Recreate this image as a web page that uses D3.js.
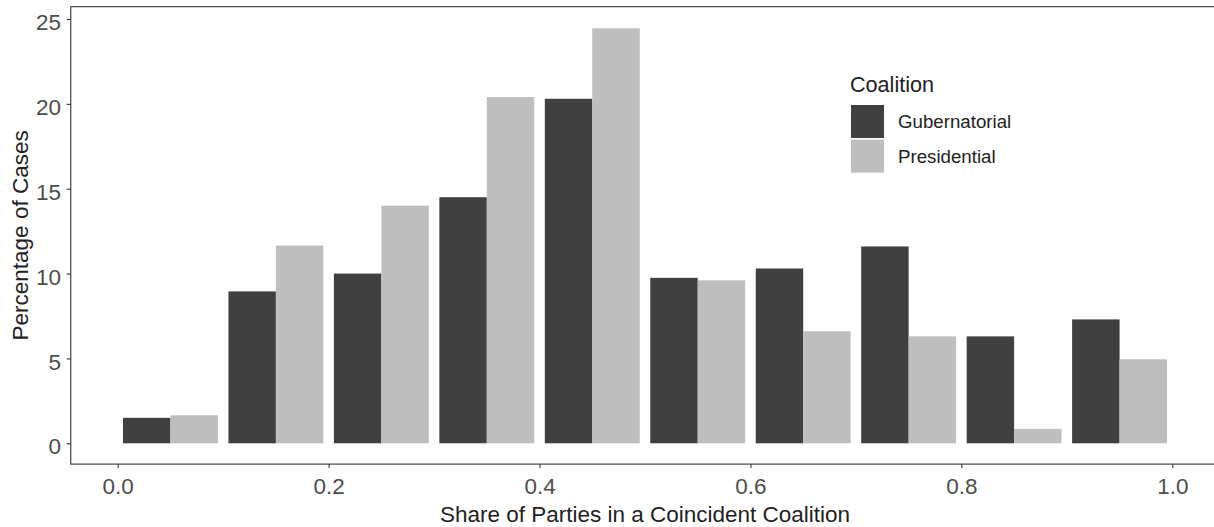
<!DOCTYPE html>
<html><head><meta charset="utf-8">
<script src="https://cdn.jsdelivr.net/npm/d3@7"></script>
<style>html,body{margin:0;padding:0;background:#fff;}svg{display:block;}</style>
</head><body>
<svg id="c" width="1214" height="527"></svg>
<script>
const binCenters = [0.05,0.15,0.25,0.35,0.45,0.55,0.65,0.75,0.85,0.95];
const gubernatorial = [1.5,8.95,10.0,14.5,20.3,9.75,10.3,11.6,6.3,7.3];
const presidential = [1.65,11.65,14.0,20.4,24.45,9.6,6.6,6.3,0.85,4.95];
const seriesNames = ["Gubernatorial","Presidential"];
const seriesColors = ["#404040","#bebebe"];
const xTicks = [0.0,0.2,0.4,0.6,0.8,1.0];
const yTicks = [0,5,10,15,20,25];

const svg = d3.select("#c");
const font = "'Liberation Sans', Arial, sans-serif";

const x = d3.scaleLinear().domain([0,1]).range([117.7,1172.3]);
const y = d3.scaleLinear().domain([0,25]).range([443.3,19]);
const xDom = [-0.0445,1.0445], yDom = [-1.225,25.725];
const pL = x(xDom[0]), pR = x(xDom[1]), pT = y(yDom[1]), pB = y(yDom[0]);
const half = 0.045;

const g = svg.append("g");
binCenters.forEach((c,i)=>{
  g.append("rect").attr("x",x(c-half)).attr("width",x(c)-x(c-half))
    .attr("y",y(gubernatorial[i])).attr("height",y(0)-y(gubernatorial[i]))
    .attr("fill",seriesColors[0]);
  g.append("rect").attr("x",x(c)).attr("width",x(c+half)-x(c))
    .attr("y",y(presidential[i])).attr("height",y(0)-y(presidential[i]))
    .attr("fill",seriesColors[1]);
});
svg.append("rect").attr("x",pL).attr("y",pT).attr("width",pR-pL).attr("height",pB-pT)
  .attr("fill","none").attr("stroke","#333333").attr("stroke-width",1.1);

const xAxis = d3.axisBottom(x).tickValues(xTicks).tickFormat(d3.format(".1f")).tickSize(4).tickSizeOuter(0);
const xa = svg.append("g").attr("transform",`translate(0,${pB})`).call(xAxis);
xa.select(".domain").remove();
xa.selectAll(".tick line").attr("stroke","#333333").attr("stroke-width",1.1);
xa.selectAll(".tick text").attr("fill","#4d4d4d").style("font-family",font).style("font-size","22.5px")
  .attr("dy","0").attr("y",494-pB);

const yAxis = d3.axisLeft(y).tickValues(yTicks).tickSize(4).tickSizeOuter(0);
const ya = svg.append("g").attr("transform",`translate(${pL},0)`).call(yAxis);
ya.select(".domain").remove();
ya.selectAll(".tick line").attr("stroke","#333333").attr("stroke-width",1.1);
ya.selectAll(".tick text").attr("fill","#4d4d4d").style("font-family",font).style("font-size","22.5px")
  .attr("x",61-pL).attr("dy","0.47em");

svg.append("text").attr("x",(pL+pR)/2).attr("y",521.5)
  .attr("text-anchor","middle").style("font-family",font).style("font-size","22.5px").attr("fill","#222")
  .text("Share of Parties in a Coincident Coalition");
svg.append("text").attr("transform",`translate(28,${(pT+pB)/2}) rotate(-90)`)
  .attr("text-anchor","middle").style("font-family",font).style("font-size","22.5px").attr("fill","#222")
  .text("Percentage of Cases");

const lg = svg.append("g");
lg.append("text").attr("x",850).attr("y",91.5).style("font-family",font).style("font-size","21.6px").attr("fill","#222").text("Coalition");
seriesNames.forEach((n,i)=>{
  const ky = 104.5 + i*34.6;
  lg.append("rect").attr("x",850.5).attr("y",ky).attr("width",34).attr("height",34)
    .attr("fill",seriesColors[i]).attr("stroke","#ffffff").attr("stroke-width",1);
  lg.append("text").attr("x",898).attr("y",ky+17).attr("dy","0.36em")
    .style("font-family",font).style("font-size","18.7px").attr("fill","#222").text(n);
});
</script>
</body></html>
